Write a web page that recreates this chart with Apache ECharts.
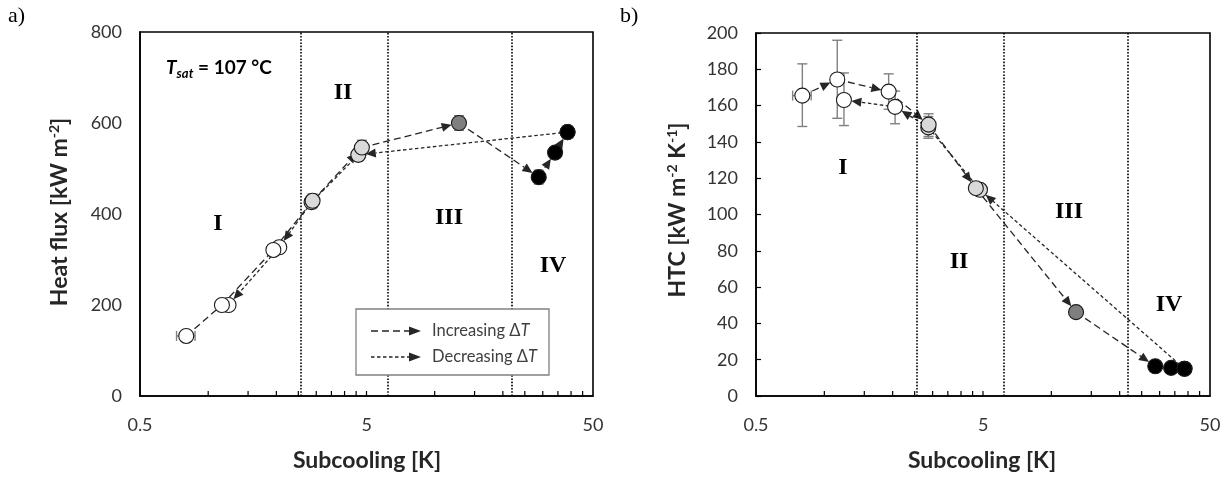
<!DOCTYPE html>
<html>
<head>
<meta charset="utf-8">
<script src="https://cdn.jsdelivr.net/npm/echarts@6/dist/echarts.min.js"></script>
<style>
  html, body { margin: 0; padding: 0; background: #ffffff; }
  #chart { width: 1229px; height: 478px; }
</style>
</head>
<body>
<div id="chart"></div>
<script>
// ---------------- data ----------------
// regime boundaries (subcooling, K)
const regimeBounds = [2.55, 6.2, 21.8];
const xTickValues = [0.5, 5, 50];
const xMinorTicks = [1, 1.5, 2, 2.5, 3, 3.5, 4, 4.5, 5, 10, 15, 20, 25, 30, 35, 40, 45];

// (a) heat flux, increasing ΔT run
const qIncX = [0.80, 1.15, 1.94, 2.89, 4.77, 12.8, 28.8, 34.0, 38.6];
const qIncY = [132, 200, 321, 429, 546, 600, 481, 535, 580];
const qIncYErr = [6, 7, 9, 15, 16, 16, 15, 12, 13];
const qIncXErr = [0.075, 0.03, 0.04, 0.05, 0.08, 0.2, 0.4, 0.4, 0.4];
const qIncArrowVisible = [0, 0, 0, 1, 1, 1, 1, 1];
// (a) heat flux, decreasing ΔT run
const qDecX = [38.6, 4.60, 2.86, 2.06, 1.23];
const qDecY = [580, 530, 426, 327, 200];
const qDecYErr = [13, 14, 14, 9, 7];
const qDecXErr = [0.4, 0.08, 0.05, 0.04, 0.03];
const qDecArrowVisible = [1, 0, 1, 1];

// (b) HTC, increasing ΔT run
const hIncX = [0.80, 1.14, 1.92, 2.88, 4.65, 12.85, 28.7, 33.7, 38.6];
const hIncY = [165.5, 174.4, 167.7, 149.5, 114.5, 46.2, 16.4, 15.5, 15.0];
const hIncLo = [148.5, 153, 158, 143, 112, 44.5, 15.6, 14.8, 14.3];
const hIncHi = [183, 196, 177.5, 155.5, 117, 48, 17.2, 16.2, 15.7];
const hIncXErr = [0.075, 0.03, 0.04, 0.05, 0.08, 0.2, 0.4, 0.4, 0.4];
const hIncArrowVisible = [1, 1, 1, 1, 1, 1, 0, 0];
// (b) HTC, decreasing ΔT run
const hDecX = [38.6, 4.85, 2.87, 2.05, 1.22];
const hDecY = [15.0, 113.6, 148.0, 159.3, 163.1];
const hDecLo = [14.3, 111, 142, 150, 149];
const hDecHi = [15.7, 116, 154, 168, 178];
const hDecXErr = [0.4, 0.08, 0.05, 0.04, 0.03];
const hDecArrowVisible = [1, 0, 1, 1];

// ---------------- helpers ----------------
const INK = '#262626';
const MARK_R = 7.5;

function regimeColor(x) {
  if (x < regimeBounds[0]) return '#ffffff';
  if (x < regimeBounds[1]) return '#d9d9d9';
  if (x < regimeBounds[2]) return '#7f7f7f';
  return '#000000';
}
function segments(xs, ys, arrows) {
  const out = [];
  for (let i = 0; i < xs.length - 1; i++) out.push([xs[i], ys[i], xs[i + 1], ys[i + 1], arrows[i]]);
  return out;
}
function points(xs, ys) { return xs.map((x, i) => [x, ys[i]]); }
function errData(xs, ys, lo, hi, xe) {
  return xs.map((x, i) => [x, ys[i], lo[i], hi[i], x - xe[i], x + xe[i]]);
}
function arrowSeries(gi, data, dash) {
  return {
    type: 'custom', xAxisIndex: gi, yAxisIndex: gi, z: 3, silent: true,
    encode: { x: [0, 2], y: [1, 3] },
    data: data,
    renderItem: function (params, api) {
      const p1 = api.coord([api.value(0), api.value(1)]);
      const p2 = api.coord([api.value(2), api.value(3)]);
      const showArrow = api.value(4) > 0;
      const dx = p2[0] - p1[0], dy = p2[1] - p1[1];
      const len = Math.sqrt(dx * dx + dy * dy) || 1;
      const ux = dx / len, uy = dy / len;
      const px = -uy, py = ux;
      const tip = [p2[0] - ux * MARK_R, p2[1] - uy * MARK_R];
      const L = 10, W = 4.5;
      const base = [tip[0] - ux * L, tip[1] - uy * L];
      const children = [
        { type: 'line', shape: showArrow ? { x1: p1[0], y1: p1[1], x2: base[0], y2: base[1] } : { x1: p1[0], y1: p1[1], x2: p2[0], y2: p2[1] },
          style: { stroke: INK, lineWidth: 1.3, lineDash: dash, fill: null } }
      ];
      if (showArrow) {
        children.push({ type: 'polygon', shape: { points: [tip, [base[0] + px * W, base[1] + py * W], [base[0] - px * W, base[1] - py * W]] },
          style: { fill: INK } });
      }
      return { type: 'group', children: children };
    }
  };
}
function errSeries(gi, data) {
  return {
    type: 'custom', xAxisIndex: gi, yAxisIndex: gi, z: 4, silent: true,
    encode: { x: 0, y: 1 },
    data: data,
    renderItem: function (params, api) {
      const x = api.value(0), y = api.value(1);
      const a = api.coord([x, api.value(2)]);
      const b = api.coord([x, api.value(3)]);
      const l = api.coord([api.value(4), y]);
      const r = api.coord([api.value(5), y]);
      const st = { stroke: '#808080', lineWidth: 1.4 };
      const C = 5;
      return {
        type: 'group',
        children: [
          { type: 'line', shape: { x1: a[0], y1: a[1], x2: b[0], y2: b[1] }, style: st },
          { type: 'line', shape: { x1: a[0] - C, y1: a[1], x2: a[0] + C, y2: a[1] }, style: st },
          { type: 'line', shape: { x1: b[0] - C, y1: b[1], x2: b[0] + C, y2: b[1] }, style: st },
          { type: 'line', shape: { x1: l[0], y1: l[1], x2: r[0], y2: r[1] }, style: st },
          { type: 'line', shape: { x1: l[0], y1: l[1] - C, x2: l[0], y2: l[1] + C }, style: st },
          { type: 'line', shape: { x1: r[0], y1: r[1] - C, x2: r[0], y2: r[1] + C }, style: st }
        ]
      };
    }
  };
}
function markerSeries(gi, data) {
  return {
    type: 'scatter', xAxisIndex: gi, yAxisIndex: gi, z: 5, silent: true,
    symbol: 'circle', symbolSize: 2 * MARK_R,
    data: data,
    itemStyle: { color: p => regimeColor(p.value[0]), borderColor: '#1a1a1a', borderWidth: 1.1, opacity: 1 }
  };
}
function tickSeries(gi, yMin) {
  return {
    type: 'custom', xAxisIndex: gi, yAxisIndex: gi, z: 6, silent: true,
    encode: { x: 0 },
    data: xMinorTicks.map(v => [v]),
    renderItem: function (params, api) {
      const p = api.coord([api.value(0), yMin]);
      return { type: 'line', shape: { x1: p[0], y1: p[1], x2: p[0], y2: p[1] - 5 },
               style: { stroke: '#000', lineWidth: 1.2 } };
    }
  };
}
function boundSeries(gi) {
  return {
    type: 'scatter', xAxisIndex: gi, yAxisIndex: gi, data: [], silent: true,
    markLine: {
      silent: true, symbol: 'none', animation: false,
      label: { show: false },
      lineStyle: { color: '#000', width: 1.6, type: [1.6, 1.6] },
      data: regimeBounds.map(v => ({ xAxis: v }))
    }
  };
}

const tickFont = { fontFamily: 'Lato', fontSize: 18, color: '#333333' };
function xAxisDef(gi) {
  return {
    type: 'log', logBase: 10, gridIndex: gi, min: xTickValues[0], max: xTickValues[2], interval: 1,
    axisLine: { lineStyle: { color: '#000', width: 1.6 } },
    axisTick: { show: false }, splitLine: { show: false }, minorTick: { show: false },
    axisLabel: Object.assign({ margin: 20, formatter: v => String(parseFloat(Number(v).toPrecision(1))) }, tickFont)
  };
}

// ---------------- chart ----------------
const chart = echarts.init(document.getElementById('chart'), null, { renderer: 'canvas' });

const titleFont = 'bold 23px Lato';
const supFont = 'bold 14px Lato';
const romanFont = 'bold 24px "Liberation Serif"';

const option = {
  animation: false,
  backgroundColor: '#ffffff',
  grid: [
    { left: 140, top: 32, width: 453, height: 364, show: true, borderColor: '#000', borderWidth: 1.6, backgroundColor: 'transparent' },
    { left: 756, top: 33, width: 454, height: 363, show: true, borderColor: '#000', borderWidth: 1.6, backgroundColor: 'transparent' }
  ],
  xAxis: [xAxisDef(0), xAxisDef(1)],
  yAxis: [
    { type: 'value', gridIndex: 0, min: 0, max: 800, interval: 200,
      axisLine: { show: true, lineStyle: { color: '#000', width: 1.6 } },
      axisTick: { show: false }, splitLine: { show: false },
      axisLabel: Object.assign({ margin: 18 }, tickFont) },
    { type: 'value', gridIndex: 1, min: 0, max: 200, interval: 20,
      axisLine: { show: true, lineStyle: { color: '#000', width: 1.6 } },
      axisTick: { show: true, inside: true, length: 5, lineStyle: { color: '#000', width: 1.2 } },
      splitLine: { show: false },
      axisLabel: Object.assign({ margin: 18 }, tickFont) }
  ],
  series: [
    boundSeries(0), boundSeries(1),
    tickSeries(0, 0), tickSeries(1, 0),
    arrowSeries(0, segments(qIncX, qIncY, qIncArrowVisible), [7, 4]),
    arrowSeries(0, segments(qDecX, qDecY, qDecArrowVisible), [3.5, 2.5]),
    arrowSeries(1, segments(hIncX, hIncY, hIncArrowVisible), [7, 4]),
    arrowSeries(1, segments(hDecX, hDecY, hDecArrowVisible), [3.5, 2.5]),
    errSeries(0, errData(qIncX, qIncY, qIncY.map((v, i) => v - qIncYErr[i]), qIncY.map((v, i) => v + qIncYErr[i]), qIncXErr)),
    errSeries(0, errData(qDecX, qDecY, qDecY.map((v, i) => v - qDecYErr[i]), qDecY.map((v, i) => v + qDecYErr[i]), qDecXErr)),
    errSeries(1, errData(hIncX, hIncY, hIncLo, hIncHi, hIncXErr)),
    errSeries(1, errData(hDecX, hDecY, hDecLo, hDecHi, hDecXErr)),
    markerSeries(0, points(qDecX, qDecY)),
    markerSeries(0, points(qIncX, qIncY)),
    markerSeries(1, points(hDecX, hDecY)),
    markerSeries(1, points(hIncX, hIncY))
  ],
  graphic: [
    // panel tags
    { type: 'text', x: 8, y: 5, style: { text: 'a)', font: '22px "Liberation Serif"', fill: '#000' } },
    { type: 'text', x: 620, y: 5, style: { text: 'b)', font: '22px "Liberation Serif"', fill: '#000' } },
    // axis titles
    { type: 'text', x: 367, y: 461, style: { text: 'Subcooling [K]', font: titleFont, fill: '#262626', align: 'center', verticalAlign: 'middle' } },
    { type: 'text', x: 982, y: 461, style: { text: 'Subcooling [K]', font: titleFont, fill: '#262626', align: 'center', verticalAlign: 'middle' } },
    { type: 'text', x: 60, y: 212, rotation: Math.PI / 2,
      style: { text: '{m|Heat flux [kW m}{s|-2}{m|]}', align: 'center', verticalAlign: 'middle',
        rich: { m: { font: titleFont, fill: '#262626', lineHeight: 26 },
                s: { font: supFont, fill: '#262626', verticalAlign: 'top', lineHeight: 26 } } } },
    { type: 'text', x: 678, y: 210, rotation: Math.PI / 2,
      style: { text: '{m|HTC [kW m}{s|-2}{m| K}{s|-1}{m|]}', align: 'center', verticalAlign: 'middle',
        rich: { m: { font: titleFont, fill: '#262626', lineHeight: 26 },
                s: { font: supFont, fill: '#262626', verticalAlign: 'top', lineHeight: 26 } } } },
    // Tsat annotation
    { type: 'text', x: 166, y: 68,
      style: { text: '{i|T}{b|sat}{m| = 107 °C}', verticalAlign: 'middle',
        rich: { i: { font: 'italic bold 19px Lato', fill: '#000', lineHeight: 24 },
                b: { font: 'italic bold 13px Lato', fill: '#000', verticalAlign: 'bottom', lineHeight: 24 },
                m: { font: 'bold 19px Lato', fill: '#000', lineHeight: 24 } } } },
    // regime labels (a)
    { type: 'text', x: 218, y: 224, style: { text: 'I', font: romanFont, fill: '#000', align: 'center', verticalAlign: 'middle' } },
    { type: 'text', x: 343, y: 93, style: { text: 'II', font: romanFont, fill: '#000', align: 'center', verticalAlign: 'middle' } },
    { type: 'text', x: 449, y: 218, style: { text: 'III', font: romanFont, fill: '#000', align: 'center', verticalAlign: 'middle' } },
    { type: 'text', x: 553, y: 266, style: { text: 'IV', font: romanFont, fill: '#000', align: 'center', verticalAlign: 'middle' } },
    // regime labels (b)
    { type: 'text', x: 843, y: 168, style: { text: 'I', font: romanFont, fill: '#000', align: 'center', verticalAlign: 'middle' } },
    { type: 'text', x: 959, y: 262, style: { text: 'II', font: romanFont, fill: '#000', align: 'center', verticalAlign: 'middle' } },
    { type: 'text', x: 1069, y: 212, style: { text: 'III', font: romanFont, fill: '#000', align: 'center', verticalAlign: 'middle' } },
    { type: 'text', x: 1169, y: 305, style: { text: 'IV', font: romanFont, fill: '#000', align: 'center', verticalAlign: 'middle' } },
    // legend box
    { type: 'rect', z: 10, shape: { x: 356, y: 309, width: 193, height: 66 }, style: { fill: '#fff', stroke: '#808080', lineWidth: 1.3 } },
    { type: 'line', z: 11, shape: { x1: 371, y1: 331, x2: 410, y2: 331 }, style: { stroke: INK, lineWidth: 1.3, lineDash: [7, 4] } },
    { type: 'polygon', z: 11, shape: { points: [[421, 331], [409, 326.5], [409, 335.5]] }, style: { fill: INK } },
    { type: 'line', z: 11, shape: { x1: 371, y1: 357, x2: 410, y2: 357 }, style: { stroke: INK, lineWidth: 1.3, lineDash: [3.5, 2.5] } },
    { type: 'polygon', z: 11, shape: { points: [[421, 357], [409, 352.5], [409, 361.5]] }, style: { fill: INK } },
    { type: 'text', z: 11, x: 432, y: 331,
      style: { text: '{r|Increasing Δ}{i|T}', verticalAlign: 'middle',
        rich: { r: { font: '16.5px Lato', fill: '#404040' }, i: { font: 'italic 16.5px Lato', fill: '#404040' } } } },
    { type: 'text', z: 11, x: 432, y: 357,
      style: { text: '{r|Decreasing Δ}{i|T}', verticalAlign: 'middle',
        rich: { r: { font: '16.5px Lato', fill: '#404040' }, i: { font: 'italic 16.5px Lato', fill: '#404040' } } } }
  ]
};
chart.setOption(option);
</script>
</body>
</html>
